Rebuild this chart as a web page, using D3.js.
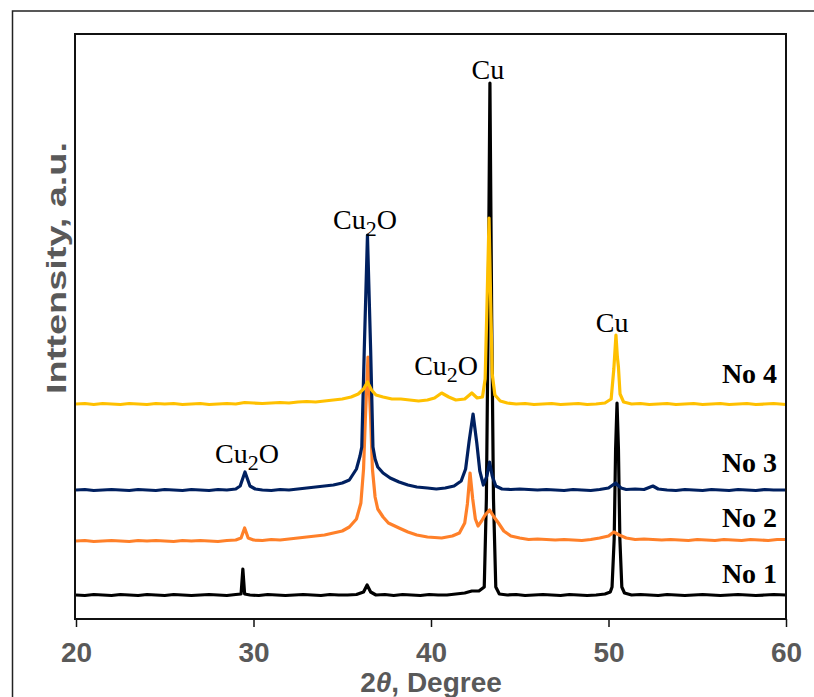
<!DOCTYPE html>
<html>
<head>
<meta charset="utf-8">
<script src="https://cdn.jsdelivr.net/npm/d3@7"></script>
<style>
  body { margin: 0; background: #fff; }
</style>
</head>
<body>
<svg width="814" height="697"></svg>
<script>
// XRD patterns: [2theta, intensity (a.u., stacked)]
const no1 = [[20,24],[20.5,23.5],[21,24.5],[21.5,24],[22,23.5],[22.5,24.5],[23,24],[23.5,23.5],[24,24.5],[24.5,24],[25,23.5],[25.5,24.5],[26,24],[26.5,23.5],[27,24],[27.5,24.5],[28,24],[28.5,23.5],[29,24.5],[29.3,25],[29.4,50],[29.5,25],[29.8,24],[30.3,23.5],[30.8,24.5],[31.3,24],[31.8,23.5],[32.3,24],[32.8,24.5],[33.3,24],[33.8,23.5],[34.3,24.5],[34.8,24],[35.3,24],[35.8,24.5],[36.2,27],[36.4,34],[36.6,27],[36.9,24],[37.4,24.5],[37.9,23.5],[38.4,24.5],[38.9,24],[39.4,23.5],[39.9,24.5],[40.4,24],[40.9,24],[41.4,25],[41.9,26],[42.3,28],[42.7,28],[43.0,32],[43.12,120],[43.22,300],[43.32,536],[43.42,300],[43.52,120],[43.65,32],[43.85,25],[44.3,24],[44.8,24.5],[45.3,23.5],[45.8,24],[46.3,24.5],[46.8,24],[47.3,23.5],[47.8,24.5],[48.3,24],[48.8,23.5],[49.3,24],[49.8,25],[50.1,27],[50.2,32],[50.32,80],[50.4,170],[50.48,216],[50.56,170],[50.64,80],[50.75,32],[50.9,26],[51.3,24],[51.8,24.5],[52.3,24],[52.8,23.5],[53.3,24.5],[53.8,24],[54.3,23.5],[54.8,24],[55.3,24.5],[55.8,24],[56.3,23.5],[56.8,24],[57.3,24.5],[57.8,24],[58.3,23.5],[58.8,24],[59.3,24.5],[60,24]];

const no2 = [[20,78],[20.5,78.5],[21,77.5],[21.5,78],[22,78.5],[22.5,78],[23,77.5],[23.5,78.5],[24,78],[24.5,78.5],[25,78],[25.5,77.5],[26,78.5],[26.5,78],[27,78.5],[27.5,78],[28,77.5],[28.5,78.5],[29,79],[29.3,81],[29.5,91],[29.7,81],[30,79],[30.5,78.5],[31,79.5],[31.5,79],[32,80],[32.5,81],[33,82],[33.5,83],[34,84],[34.5,86],[35,88],[35.4,92],[35.8,100],[36.05,116],[36.2,150],[36.3,200],[36.45,262],[36.6,200],[36.7,150],[36.85,122],[37.0,110],[37.3,102],[37.6,96],[38.2,91],[38.7,87],[39.2,84],[39.8,82],[40.6,81],[41.2,83],[41.6,86],[41.9,96],[42.05,115],[42.2,146],[42.35,120],[42.5,100],[42.65,93],[42.85,98],[43.05,104],[43.3,109],[43.55,102],[43.8,96],[44.1,88],[44.5,83],[45,81],[45.5,79.5],[46,80],[46.5,79.5],[47,79],[47.5,79.5],[48,79],[48.5,78.5],[49,79.5],[49.5,81],[50,83],[50.3,87],[50.6,84],[51,81],[51.5,79.5],[52,80],[52.5,79.5],[53,79],[53.5,79.5],[54,79],[54.5,78.5],[55,79.5],[55.5,79],[56,78.5],[56.5,79.5],[57,79],[57.5,78.5],[58,79.5],[58.5,79],[59,78.5],[59.5,79.5],[60,79.5]];

const no3 = [[20,129],[20.5,129.5],[21,128.5],[21.5,129],[22,129.5],[22.5,129],[23,128.5],[23.5,129.5],[24,129],[24.5,128.5],[25,129.5],[25.5,129],[26,128.5],[26.5,129.5],[27,129],[27.5,128.5],[28,129.5],[28.5,129],[29,130],[29.25,133],[29.52,147],[29.8,133],[30.1,130],[30.5,129],[31,128.5],[31.5,129.5],[32,129],[32.5,130],[33,131],[33.5,132],[34,133],[34.5,134],[35,136],[35.4,139],[35.8,150],[36.0,163],[36.1,172],[36.24,269],[36.42,384],[36.6,269],[36.73,172],[36.85,160],[37.0,152],[37.3,146],[37.7,141],[38.2,137],[38.7,134],[39.2,132],[39.8,131],[40.3,130],[40.8,131],[41.3,133],[41.7,138],[41.95,150],[42.15,178],[42.37,205],[42.58,176],[42.75,148],[42.95,134],[43.15,143],[43.3,157],[43.45,143],[43.65,133],[44,130],[44.5,129.5],[45,130],[45.5,129.5],[46,129],[46.5,129.5],[47,129],[47.5,128.5],[48,129.5],[48.5,129],[49,128.5],[49.5,129.5],[50,131],[50.4,136],[50.7,131],[51,129.5],[51.5,130],[52,129.5],[52.5,133],[52.8,130],[53.3,129],[53.8,128.5],[54.3,129.5],[54.8,129],[55.3,128.5],[55.8,129.5],[56.3,129],[56.8,128.5],[57.3,129.5],[57.8,129],[58.3,128.5],[58.8,129.5],[59.3,129],[60,129]];

const no4 = [[20,215],[20.5,215.5],[21,214.5],[21.5,215.5],[22,215],[22.5,214.5],[23,215.5],[23.5,215],[24,214.5],[24.5,215.5],[25,215],[25.5,215.5],[26,214.5],[26.5,215],[27,215.5],[27.5,214.5],[28,215],[28.5,215.5],[29,215],[29.5,216.5],[30,216],[30.5,215.5],[31,216],[31.5,216.5],[32,216],[32.5,217],[33,217.5],[33.5,217],[34,218],[34.5,219],[35,220],[35.5,222],[35.9,225],[36.2,230],[36.42,237],[36.65,229],[36.9,224],[37.3,222],[37.8,220],[38.3,220],[38.8,219],[39.3,218],[39.8,219],[40.2,221],[40.6,226],[41.0,222],[41.4,219],[41.9,220],[42.3,226],[42.6,221],[42.9,222],[43.05,240],[43.16,319],[43.27,401],[43.36,319],[43.45,245],[43.6,224],[43.9,218],[44.3,216],[44.8,215],[45.3,215.5],[45.8,214.5],[46.3,215],[46.8,215.5],[47.3,214.5],[47.8,215],[48.3,215.5],[48.8,214.5],[49.3,215],[49.8,216],[50.15,220],[50.3,250],[50.42,284],[50.5,262],[50.56,252],[50.65,225],[50.85,217],[51.3,215],[51.8,215.5],[52.3,214.5],[52.8,215],[53.3,215.5],[53.8,214.5],[54.3,215],[54.8,215.5],[55.3,214.5],[55.8,215],[56.3,215.5],[56.8,214.5],[57.3,215],[57.8,215.5],[58.3,214.5],[58.8,215],[59.3,215.5],[60,214.5]];

const seriesNames = ["No 1", "No 2", "No 3", "No 4"];
const seriesData = [no1, no2, no3, no4];
const seriesColors = ["#000000", "#FF8029", "#002060", "#FFC000"];
// where each sample name sits: [2theta (right end), intensity of baseline]
const nameAnchors = [[59.5, 36], [59.5, 92], [59.5, 147], [59.5, 236]];

// peak labels: [phase, 2theta, intensity]
const peakLabels = [["Cu", 43.2, 540], ["Cu2O", 36.28, 390], ["Cu2O", 40.85, 244], ["Cu2O", 29.63, 156], ["Cu", 50.2, 287]];

const xTicks = [20, 30, 40, 50, 60];

const svg = d3.select("svg");

// outer frame of the figure
svg.append("rect")
  .attr("x", 12.5).attr("y", 11)
  .attr("width", 830).attr("height", 720)
  .attr("fill", "none")
  .attr("stroke", "#222")
  .attr("stroke-width", 1.5);

const margin = { top: 34, left: 76, right: 28, bottom: 78 };
const width = 814 - margin.left - margin.right;
const height = 697 - margin.top - margin.bottom;

const x = d3.scaleLinear().domain([20, 60]).range([0, width]);
const y = d3.scaleLinear().domain([0, 585]).range([height, 0]);

const graph = svg.append("g")
  .attr("transform", `translate(${margin.left},${margin.top})`);

const line = d3.line()
  .x((d) => x(d[0]))
  .y((d) => y(d[1]));

graph.selectAll("path.trace")
  .data(seriesData)
  .enter()
  .append("path")
  .attr("class", "trace")
  .attr("d", line)
  .attr("fill", "none")
  .attr("stroke", (d, i) => seriesColors[i])
  .attr("stroke-width", 3.2)
  .attr("stroke-linejoin", "round");

// plot frame
graph.append("rect")
  .attr("x", -1).attr("y", 0)
  .attr("width", width + 1).attr("height", height)
  .attr("fill", "none")
  .attr("stroke", "#111")
  .attr("stroke-width", 2);

// x axis
const xAxis = d3.axisBottom(x)
  .tickValues(xTicks)
  .tickSize(8)
  .tickPadding(15)
  .tickFormat(d3.format("d"));

const xAxisGroup = graph.append("g")
  .attr("transform", `translate(0,${height})`)
  .call(xAxis);

xAxisGroup.select(".domain").remove();
xAxisGroup.selectAll(".tick line").attr("stroke", "#111").attr("stroke-width", 1.5);
xAxisGroup.selectAll(".tick text")
  .attr("fill", "#595959")
  .style("font-family", "'Liberation Sans', Arial, sans-serif")
  .style("font-size", "28px")
  .style("font-weight", "bold");

// axis titles
const xTitle = svg.append("text")
  .attr("x", margin.left + width / 2)
  .attr("y", 692)
  .attr("text-anchor", "middle")
  .attr("fill", "#595959")
  .style("font-family", "'Liberation Sans', Arial, sans-serif")
  .style("font-size", "28px")
  .style("font-weight", "bold");
xTitle.append("tspan").text("2");
xTitle.append("tspan").style("font-style", "italic").text("θ");
xTitle.append("tspan").text(", Degree");

svg.append("text")
  .attr("transform", "translate(66,268) rotate(-90)")
  .attr("text-anchor", "middle")
  .attr("fill", "#595959")
  .attr("textLength", 252)
  .attr("lengthAdjust", "spacingAndGlyphs")
  .style("font-family", "'Liberation Sans', Arial, sans-serif")
  .style("font-size", "28px")
  .style("font-weight", "bold")
  .text("Inttensity, a.u.");

// sample names
graph.selectAll("text.name")
  .data(seriesNames)
  .enter()
  .append("text")
  .attr("class", "name")
  .attr("x", (d, i) => x(nameAnchors[i][0]))
  .attr("y", (d, i) => y(nameAnchors[i][1]))
  .attr("text-anchor", "end")
  .style("font-family", "'Liberation Serif', 'Times New Roman', serif")
  .style("font-size", "28px")
  .style("font-weight", "bold")
  .text((d) => d);

// peak labels
peakLabels.forEach(([phase, tt, inten]) => {
  const t = graph.append("text")
    .attr("x", x(tt))
    .attr("y", y(inten))
    .attr("text-anchor", "middle")
    .style("font-family", "'Liberation Serif', 'Times New Roman', serif")
    .style("font-size", "28px");
  if (phase === "Cu2O") {
    t.append("tspan").text("Cu");
    t.append("tspan").attr("dy", 7).style("font-size", "22px").text("2");
    t.append("tspan").attr("dy", -7).text("O");
  } else {
    t.text(phase);
  }
});
</script>
</body>
</html>
